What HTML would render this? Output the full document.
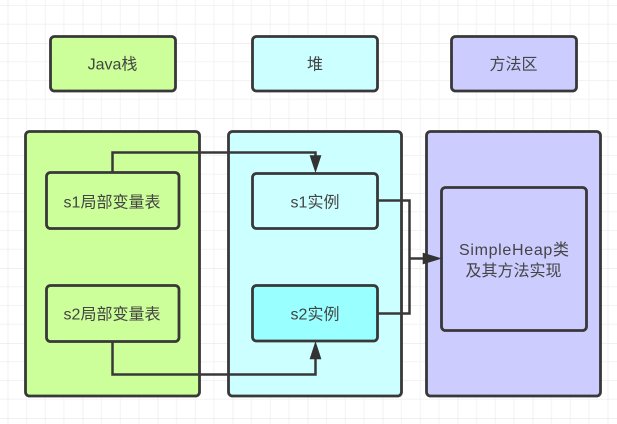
<!DOCTYPE html>
<html><head><meta charset="utf-8"><style>
html,body{margin:0;padding:0;background:#fff}
svg{display:block}
text{font-family:"Liberation Sans","Noto Sans CJK SC",sans-serif;font-size:16px;fill:#444;text-anchor:middle}
</style></head><body>
<svg width="617" height="424" viewBox="0 0 617 424" xmlns="http://www.w3.org/2000/svg">
<defs>
<pattern id="g" x="7.7" y="-32" width="75" height="75" patternUnits="userSpaceOnUse">
<path d="M18.75 0V75M37.5 0V75M56.25 0V75M0 18.75H75M0 37.5H75M0 56.25H75" stroke="#f3f3f3" stroke-width="1" fill="none"/>
<path d="M0 0V75M0 0H75" stroke="#e6e6e6" stroke-width="1.2" fill="none"/>
</pattern>
</defs>
<rect width="617" height="424" fill="#fff"/>
<rect width="617" height="424" fill="url(#g)"/>
<g stroke="#383838" stroke-width="2.8">
<rect x="50.5" y="36.5" width="125" height="54.5" rx="4" fill="#ccff99"/>
<rect x="252.5" y="36.5" width="125" height="54.5" rx="4" fill="#ccffff"/>
<rect x="451.5" y="36.5" width="125" height="54.5" rx="4" fill="#ccccff"/>
<rect x="25.5" y="131.5" width="174" height="264.5" rx="4" fill="#ccff99"/>
<rect x="228.5" y="131.5" width="173" height="264.5" rx="4" fill="#ccffff"/>
<rect x="426.5" y="131.5" width="174" height="264.5" rx="4" fill="#ccccff"/>
<rect x="46.5" y="172.5" width="132.5" height="56" rx="4" fill="#ccff99"/>
<rect x="46.5" y="285.5" width="132.5" height="56" rx="4" fill="#ccff99"/>
<rect x="252.5" y="173.5" width="125" height="55" rx="4" fill="#ccffff"/>
<rect x="252.5" y="285.5" width="125" height="55.5" rx="4" fill="#99ffff"/>
<rect x="441.5" y="187.5" width="145" height="143" rx="4" fill="#ccccff"/>
</g>
<g fill="none" stroke="#383838" stroke-width="2.5">
<path d="M112.5 172V152.5H315.5V158"/>
<path d="M112.5 341V374.5H315.5V356"/>
<path d="M378 200.5H409.5V313.5H378"/>
<path d="M409.5 258.5H426"/>
</g>
<g fill="#333" stroke="#333" stroke-width="0.6">
<path d="M310 155.5L321 155.5L315.5 172Z"/>
<path d="M310 359L321 359L315.5 342Z"/>
<path d="M423 253L441 258.5L423 264Z"/>
</g>
<text x="112.5" y="69.5">Java栈</text>
<text x="315" y="69.5">堆</text>
<text x="513.5" y="69.5">方法区</text>
<text x="112" y="207.5">s1局部变量表</text>
<text x="112" y="319.5">s2局部变量表</text>
<text x="315" y="207.5">s1实例</text>
<text x="315" y="319.5">s2实例</text>
<text x="514" y="255" textLength="110" lengthAdjust="spacing">SimpleHeap类</text>
<text x="513.5" y="276">及其方法实现</text>
</svg>
</body></html>
